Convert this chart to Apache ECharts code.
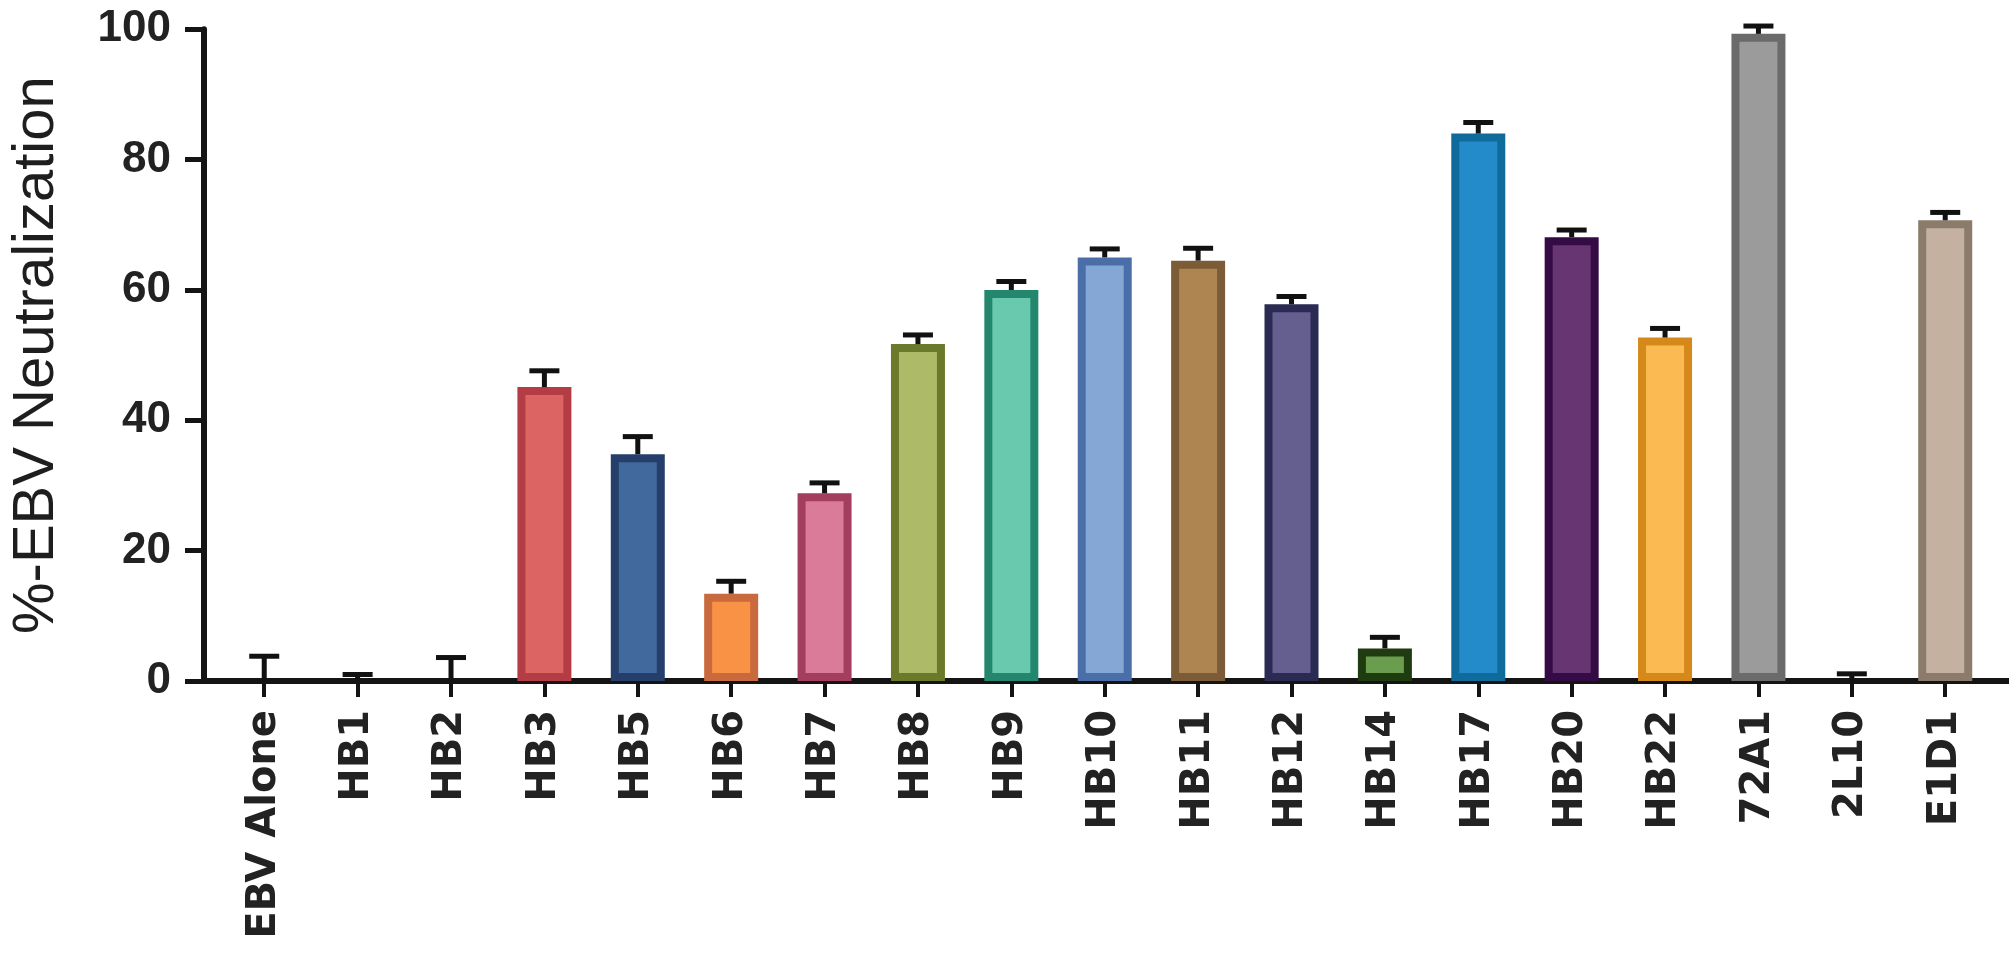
<!DOCTYPE html>
<html>
<head>
<meta charset="utf-8">
<script src="https://cdn.jsdelivr.net/npm/echarts@6/dist/echarts.min.js"></script>
<style>
  html, body { margin: 0; padding: 0; background: #ffffff; }
  #chart { width: 2009px; height: 958px; }
</style>
</head>
<body>
<div id="chart"></div>
<script>
// Antibody panel
const categories = ['EBV Alone', 'HB1', 'HB2', 'HB3', 'HB5', 'HB6', 'HB7', 'HB8', 'HB9', 'HB10',
  'HB11', 'HB12', 'HB14', 'HB17', 'HB20', 'HB22', '72A1', '2L10', 'E1D1'];

// Mean % neutralization
const neutralization = [0, 0, 0, 45.1, 34.8, 13.4, 28.8, 51.7, 60.0, 65.0,
  64.5, 57.8, 5.0, 84.0, 68.1, 52.7, 99.3, 0, 70.7];

// Upper error (SEM)
const errorUp = [3.8, 1.0, 3.6, 2.5, 2.7, 1.9, 1.6, 1.4, 1.3, 1.3,
  1.9, 1.2, 1.7, 1.7, 1.1, 1.4, 1.2, 1.1, 1.2];

// Bar fill / outline colours (null = no bar drawn)
const fillColors = [null, null, null, '#DC6462', '#41699E', '#F99245', '#D97B99', '#ADBA67', '#68C9AF', '#84A7D6',
  '#AE8550', '#645F8F', '#6A9E4E', '#238BC9', '#663572', '#FBBB52', '#9B9B9B', null, '#C5B19F'];
const edgeColors = [null, null, null, '#B43C44', '#253F6A', '#C86A3E', '#A43E5E', '#6A7A2A', '#24866C', '#4A6EA8',
  '#7C5C36', '#2B2A52', '#1F3B10', '#0F6B9B', '#340B45', '#D5891A', '#6B6B6B', null, '#8A7B6B'];

// Y axis ticks
const yTicks = [0, 20, 40, 60, 80, 100];

const idx = categories.map((_, i) => i);

const barData = neutralization.map((v, i) => ({
  value: [i, v],
  itemStyle: fillColors[i]
    ? { color: fillColors[i], borderColor: edgeColors[i], borderWidth: 8 }
    : { color: 'rgba(0,0,0,0)', borderWidth: 0 }
}));

const errData = neutralization.map((v, i) => [i, v, errorUp[i]]);

const chart = echarts.init(document.getElementById('chart'), null, { renderer: 'canvas' });

chart.setOption({
  backgroundColor: '#ffffff',
  animation: false,
  grid: { left: 197, right: 0, top: 29.3, bottom: 277, containLabel: false },
  xAxis: {
    type: 'value',
    min: -0.645,
    max: 18.683,
    splitLine: { show: false },
    axisLine: { show: true, onZero: false, lineStyle: { color: '#141414', width: 6 } },
    axisTick: {
      show: true, length: 16, customValues: idx,
      lineStyle: { color: '#141414', width: 4 }
    },
    axisLabel: {
      show: true,
      customValues: idx,
      rotate: 90,
      margin: 29,
      fontFamily: 'DejaVu Sans',
      fontWeight: 'bold',
      fontSize: 40,
      color: '#222222',
      formatter: (val) => categories[Math.round(val)]
    }
  },
  yAxis: {
    type: 'value',
    min: yTicks[0],
    max: yTicks[yTicks.length - 1],
    interval: 20,
    name: '%-EBV Neutralization',
    nameLocation: 'middle',
    nameGap: 138,
    nameTextStyle: {
      fontFamily: 'Liberation Sans',
      fontSize: 58,
      color: '#1e1e1e'
    },
    splitLine: { show: false },
    axisLine: { show: true, onZero: false, lineStyle: { color: '#141414', width: 6 } },
    axisTick: { show: true, length: 19, lineStyle: { color: '#141414', width: 5 } },
    axisLabel: {
      margin: 33,
      fontFamily: 'Liberation Sans',
      fontWeight: 'bold',
      fontSize: 44,
      color: '#222222'
    }
  },
  series: [
    {
      type: 'bar',
      barWidth: 54,
      data: barData,
      z: 2
    },
    {
      type: 'custom',
      clip: false,
      z: 5,
      data: errData,
      renderItem: function (params, api) {
        const x = api.value(0);
        const v = api.value(1);
        const e = api.value(2);
        const base = api.coord([x, v]);
        const top = api.coord([x, v + e]);
        const style = { stroke: '#111111', lineWidth: 5 };
        return {
          type: 'group',
          children: [
            { type: 'line', shape: { x1: base[0], y1: base[1], x2: top[0], y2: top[1] }, style: style },
            { type: 'line', shape: { x1: top[0] - 15, y1: top[1], x2: top[0] + 15, y2: top[1] }, style: style }
          ]
        };
      }
    }
  ]
});
</script>
</body>
</html>
